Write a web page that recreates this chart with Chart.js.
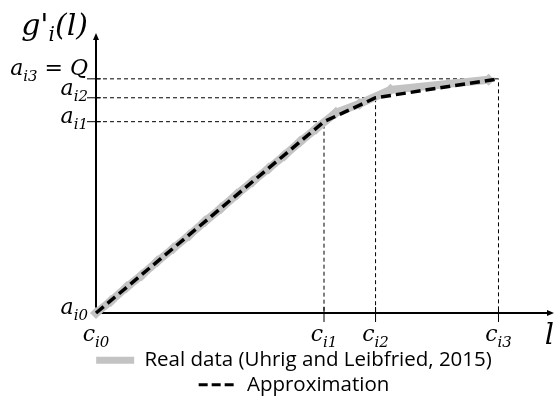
<!DOCTYPE html>
<html>
<head>
<meta charset="utf-8">
<script src="https://cdn.jsdelivr.net/npm/chart.js@4"></script>
<style>
  html, body { margin: 0; padding: 0; background: #fff; }
  #wrap { width: 560px; height: 401px; }
</style>
</head>
<body>
<div id="wrap"><canvas id="chart" width="560" height="401"></canvas></div>
<script>
// breakpoints of the piecewise approximation (l, g'_i(l))
const cValues = [0, 230, 282, 406];
const aValues = [0, 192, 216, 235];
const xTickLabels = ["c_i0", "c_i1", "c_i2", "c_i3"];
const yTickLabels = ["a_i0", "a_i1", "a_i2", "a_i3 = Q"];

// real data (Uhrig and Leibfried, 2015)
const realX = [0, 15, 31, 46, 62, 78, 94, 110, 126, 142, 158, 174, 190, 206, 222, 242, 266, 297, 396];
const realY = [0, 12, 26, 38, 52, 65, 78, 92, 105, 119, 132, 145, 158, 172, 185, 201, 210, 224, 234];

const legendLabels = ["Real data (Uhrig and Leibfried, 2015)", "Approximation"];

const pts = (xs, ys) => xs.map((x, i) => ({ x, y: ys[i] }));

// dashed guide lines from each breakpoint to both axes
const guides = cValues.slice(1).map((c, i) => ({
  label: "guide" + (i + 1),
  data: [{ x: 0, y: aValues[i + 1] }, { x: c, y: aValues[i + 1] }, { x: c, y: 0 }],
  borderColor: "#000",
  borderWidth: 1,
  borderDash: [4, 3],
  pointRadius: 0,
  tension: 0,
  fill: false,
  clip: false
}));

// draw a label like "a_i3 = Q" with a subscript
function mathText(ctx, str, x, y, align, size) {
  const m = str.match(/^([^_]+)_(\S+)(.*)$/);
  const parts = m ? [[m[1], size, 0], [m[2], size * 0.68, 6], [m[3], size, 0]] : [[str, size, 0]];
  let w = 0;
  parts.forEach(p => { ctx.font = `italic ${p[1]}px "DejaVu Serif"`; w += ctx.measureText(p[0]).width; });
  let cx = align === "right" ? x - w : align === "center" ? x - w / 2 : x;
  parts.forEach(p => {
    ctx.font = `italic ${p[1]}px "DejaVu Serif"`;
    ctx.fillText(p[0], cx, y + p[2]);
    cx += ctx.measureText(p[0]).width;
  });
}

const axesPlugin = {
  id: "axes",
  beforeDatasetsDraw(chart) {
    const { ctx, chartArea: a, scales: { x, y } } = chart;
    const ox = x.getPixelForValue(0), oy = y.getPixelForValue(0);
    ctx.save();
    ctx.strokeStyle = "#000";
    ctx.fillStyle = "#000";
    ctx.lineWidth = 2;
    ctx.beginPath();
    ctx.moveTo(ox, oy); ctx.lineTo(ox, a.top + 4);
    ctx.moveTo(ox, oy); ctx.lineTo(a.right - 4, oy);
    ctx.stroke();
    // arrow heads
    ctx.beginPath();
    ctx.moveTo(ox, a.top); ctx.lineTo(ox - 3, a.top + 7); ctx.lineTo(ox + 3, a.top + 7); ctx.closePath();
    ctx.moveTo(a.right, oy); ctx.lineTo(a.right - 7, oy - 3); ctx.lineTo(a.right - 7, oy + 3); ctx.closePath();
    ctx.fill();
    // ticks crossing the axes
    ctx.lineWidth = 1;
    ctx.beginPath();
    aValues.slice(1).forEach(v => { const py = y.getPixelForValue(v); ctx.moveTo(ox - 9, py); ctx.lineTo(ox + 5, py); });
    cValues.slice(1).forEach(v => { const px = x.getPixelForValue(v); ctx.moveTo(px, oy - 6); ctx.lineTo(px, oy + 9); });
    ctx.stroke();
    ctx.restore();
  },
  afterDraw(chart) {
    const { ctx, chartArea: a, scales: { x, y } } = chart;
    const ox = x.getPixelForValue(0), oy = y.getPixelForValue(0);
    const yOff = [1, 1, -3, -4];
    ctx.save();
    ctx.fillStyle = "#000";
    ctx.textBaseline = "alphabetic";
    yTickLabels.forEach((t, i) => mathText(ctx, t, ox - 8, y.getPixelForValue(aValues[i]) + yOff[i], "right", 22));
    xTickLabels.forEach((t, i) => mathText(ctx, t, x.getPixelForValue(cValues[i]), oy + 28, "center", 22));
    // axis titles
    ctx.font = 'italic 29px "DejaVu Serif"';
    ctx.textAlign = "right";
    ctx.fillText("l", a.right, oy + 31);
    // g'_i(l), right aligned just left of the arrow
    ctx.textAlign = "left";
    const big = 'italic 30px "DejaVu Serif"', small = 'italic 20px "DejaVu Serif"';
    ctx.font = big;
    const w1 = ctx.measureText("g'").width, w3 = ctx.measureText("(l)").width;
    ctx.font = small;
    const w2 = ctx.measureText("i").width;
    let gx = ox - 8 - (w1 + w2 + w3);
    const base = a.top + 2;
    ctx.font = big; ctx.fillText("g'", gx, base); gx += w1;
    ctx.font = small; ctx.fillText("i", gx, base + 6); gx += w2;
    ctx.font = big; ctx.fillText("(l)", gx, base);
    ctx.restore();
  }
};

new Chart(document.getElementById("chart"), {
  type: "line",
  data: {
    datasets: [
      {
        label: legendLabels[1],
        data: pts(cValues, aValues),
        borderColor: "#000",
        borderWidth: 3.5,
        borderDash: [10, 5],
        pointRadius: 0,
        tension: 0,
        clip: false
      },
      {
        label: legendLabels[0],
        data: pts(realX, realY),
        borderColor: "#c3c3c3",
        borderWidth: 8,
        pointStyle: "rectRot",
        pointRadius: 6,
        pointBackgroundColor: "#c3c3c3",
        pointBorderWidth: 0,
        tension: 0,
        clip: false
      },
      ...guides
    ]
  },
  options: {
    responsive: false,
    animation: false,
    devicePixelRatio: 1,
    layout: { padding: { left: 30, right: 2, top: 33, bottom: -4 } },
    scales: {
      x: {
        type: "linear", min: 0, max: 462,
        grid: { display: false }, border: { display: false }, ticks: { display: false },
        afterFit(s) { s.height = 33; }
      },
      y: {
        type: "linear", min: 0, max: 281,
        grid: { display: false }, border: { display: false }, ticks: { display: false },
        afterFit(s) { s.width = 66; }
      }
    },
    plugins: {
      tooltip: { enabled: false },
      legend: {
        position: "bottom",
        labels: {
          usePointStyle: true,
          pointStyleWidth: 38,
          padding: 4,
          color: "#000",
          font: { family: "Open Sans", size: 20.5 },
          generateLabels() {
            return [
              { text: legendLabels[0], pointStyle: "line", strokeStyle: "#c3c3c3", fillStyle: "#c3c3c3", lineWidth: 7, lineDash: [], datasetIndex: 1 },
              { text: legendLabels[1], pointStyle: "line", strokeStyle: "#000", fillStyle: "#000", lineWidth: 3, lineDash: [9, 4], datasetIndex: 0 }
            ];
          }
        }
      }
    }
  },
  plugins: [axesPlugin]
});
</script>
</body>
</html>
